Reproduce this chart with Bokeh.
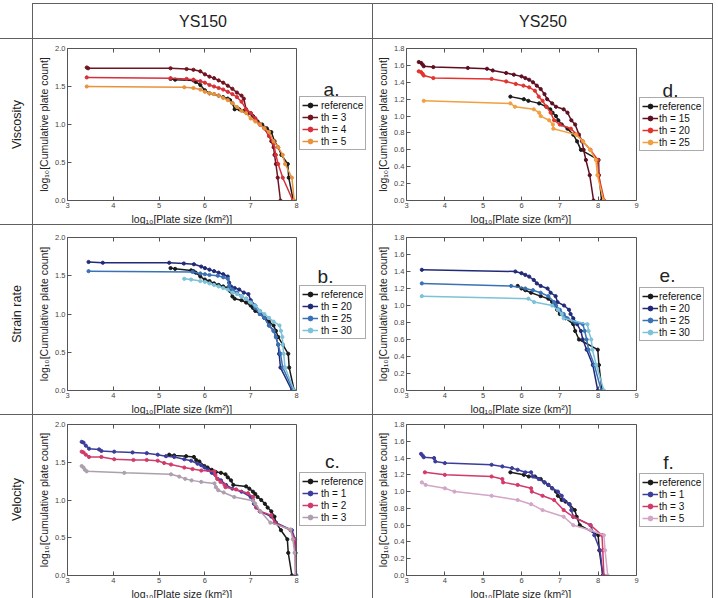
import math
from bokeh.plotting import figure
from bokeh.models import (ColumnDataSource, Legend, LegendItem, Label, Range1d, Span, Title,
                          FixedTicker, PrintfTickFormatter, LinearAxis, Div, Spacer)
from bokeh.layouts import row, column
from bokeh.embed import file_html
from bokeh.resources import INLINE

FONT = "Liberation Sans"
AXC = "#555555"
LC = "#606060"

# ---------------- data ----------------
col_headers = ["YS150", "YS250"]
row_headers = ["Viscosity", "Strain rate", "Velocity"]
x_label = "log₁₀[Plate size (km²)]"
y_label = "log₁₀[Cumulative plate count]"

# panel a: YS150 viscosity
a_ref_x = [5.25, 5.35, 5.75, 5.80, 5.90, 6.00, 6.10, 6.20, 6.30, 6.40, 6.50, 6.55, 6.60, 6.65, 6.75, 6.85, 6.95, 7.05, 7.15, 7.25, 7.35, 7.45, 7.52, 7.60, 7.67, 7.81, 7.83, 7.93]
a_ref_y = [1.60, 1.59, 1.58, 1.56, 1.52, 1.45, 1.41, 1.40, 1.38, 1.36, 1.34, 1.32, 1.28, 1.20, 1.20, 1.18, 1.15, 1.11, 1.04, 1.00, 0.95, 0.90, 0.78, 0.70, 0.60, 0.48, 0.30, 0.00]
a_th3_x = [3.42, 3.45, 5.25, 5.60, 5.75, 5.90, 6.00, 6.10, 6.20, 6.30, 6.40, 6.50, 6.60, 6.70, 6.80, 6.85, 6.90, 7.00, 7.10, 7.20, 7.30, 7.40, 7.45, 7.50, 7.52, 7.55, 7.59, 7.65]
a_th3_y = [1.75, 1.74, 1.74, 1.73, 1.72, 1.70, 1.66, 1.63, 1.61, 1.58, 1.55, 1.51, 1.47, 1.42, 1.38, 1.34, 1.20, 1.15, 1.08, 1.00, 0.95, 0.85, 0.78, 0.70, 0.60, 0.48, 0.30, 0.00]
a_th4_x = [3.42, 5.25, 5.60, 5.75, 5.90, 6.00, 6.10, 6.20, 6.30, 6.40, 6.50, 6.60, 6.70, 6.80, 6.90, 7.00, 7.10, 7.20, 7.30, 7.40, 7.50, 7.55, 7.60, 7.70, 7.92]
a_th4_y = [1.62, 1.61, 1.60, 1.59, 1.57, 1.55, 1.52, 1.50, 1.48, 1.46, 1.43, 1.40, 1.36, 1.30, 1.20, 1.15, 1.08, 1.00, 0.95, 0.85, 0.75, 0.60, 0.48, 0.30, 0.00]
a_th5_x = [3.42, 5.55, 5.75, 5.90, 6.00, 6.10, 6.20, 6.30, 6.40, 6.50, 6.60, 6.70, 6.80, 6.90, 7.00, 7.10, 7.20, 7.30, 7.40, 7.50, 7.60, 7.70, 7.75, 7.90, 7.95]
a_th5_y = [1.50, 1.49, 1.48, 1.46, 1.43, 1.41, 1.40, 1.38, 1.35, 1.32, 1.28, 1.23, 1.18, 1.15, 1.08, 1.04, 1.00, 0.95, 0.90, 0.78, 0.70, 0.60, 0.48, 0.30, 0.00]

# panel d: YS250 viscosity
d_ref_x = [5.71, 6.06, 6.18, 6.46, 6.65, 6.75, 6.81, 6.90, 6.96, 7.05, 7.20, 7.35, 7.45, 7.55, 8.01, 8.02, 8.09]
d_ref_y = [1.23, 1.20, 1.18, 1.15, 1.11, 1.08, 1.04, 1.00, 0.95, 0.90, 0.85, 0.78, 0.70, 0.60, 0.48, 0.30, 0.00]
d_th15_x = [3.32, 3.38, 3.42, 3.45, 3.70, 4.60, 5.10, 5.25, 5.60, 5.80, 6.00, 6.10, 6.20, 6.30, 6.40, 6.50, 6.60, 6.67, 6.80, 6.90, 7.10, 7.20, 7.30, 7.40, 7.50, 7.58, 7.62, 7.68, 7.78, 7.88]
d_th15_y = [1.64, 1.63, 1.61, 1.59, 1.58, 1.57, 1.56, 1.54, 1.51, 1.49, 1.47, 1.45, 1.43, 1.40, 1.36, 1.32, 1.26, 1.20, 1.15, 1.11, 1.08, 1.04, 0.95, 0.90, 0.78, 0.70, 0.60, 0.48, 0.30, 0.00]
d_th20_x = [3.32, 3.38, 3.42, 3.45, 3.70, 5.22, 5.60, 5.85, 6.05, 6.20, 6.35, 6.45, 6.55, 6.65, 6.76, 6.85, 7.00, 7.29, 7.45, 7.60, 7.80, 7.99, 8.01, 8.16]
d_th20_y = [1.53, 1.52, 1.50, 1.48, 1.45, 1.44, 1.41, 1.38, 1.36, 1.34, 1.30, 1.23, 1.18, 1.11, 1.04, 0.95, 0.90, 0.85, 0.78, 0.70, 0.60, 0.48, 0.30, 0.00]
d_th25_x = [3.45, 5.71, 5.83, 6.32, 6.46, 6.50, 6.72, 6.82, 6.83, 7.42, 7.61, 7.79, 7.94, 7.98, 8.14]
d_th25_y = [1.18, 1.15, 1.11, 1.08, 1.04, 1.00, 0.95, 0.90, 0.85, 0.78, 0.70, 0.60, 0.48, 0.30, 0.00]

# panel b: YS150 strain rate
b_ref_x = [5.25, 5.35, 5.70, 5.75, 5.80, 5.90, 6.00, 6.10, 6.20, 6.30, 6.40, 6.50, 6.55, 6.60, 6.65, 6.80, 6.90, 7.00, 7.05, 7.10, 7.20, 7.30, 7.40, 7.50, 7.55, 7.60, 7.70, 7.82, 7.84, 7.95]
b_ref_y = [1.60, 1.59, 1.57, 1.56, 1.54, 1.49, 1.45, 1.43, 1.40, 1.38, 1.36, 1.34, 1.30, 1.23, 1.20, 1.18, 1.15, 1.11, 1.08, 1.04, 1.00, 0.95, 0.90, 0.85, 0.78, 0.70, 0.60, 0.48, 0.30, 0.00]
b_th20_x = [3.46, 3.77, 5.22, 5.54, 5.76, 5.92, 6.00, 6.10, 6.20, 6.30, 6.40, 6.50, 6.53, 6.57, 6.65, 6.75, 6.85, 6.95, 7.00, 7.10, 7.20, 7.30, 7.40, 7.50, 7.55, 7.60, 7.62, 7.65, 7.90]
b_th20_y = [1.68, 1.67, 1.67, 1.66, 1.65, 1.62, 1.60, 1.58, 1.56, 1.54, 1.52, 1.49, 1.41, 1.36, 1.34, 1.32, 1.28, 1.26, 1.18, 1.11, 1.04, 0.95, 0.85, 0.78, 0.70, 0.60, 0.48, 0.30, 0.00]
b_th25_x = [3.46, 5.73, 5.90, 6.00, 6.10, 6.28, 6.40, 6.50, 6.53, 6.60, 6.70, 6.80, 6.90, 7.00, 7.10, 7.20, 7.30, 7.40, 7.50, 7.55, 7.60, 7.65, 7.70, 7.93]
b_th25_y = [1.56, 1.55, 1.53, 1.52, 1.51, 1.50, 1.48, 1.46, 1.37, 1.32, 1.28, 1.23, 1.20, 1.15, 1.08, 1.00, 0.95, 0.85, 0.78, 0.70, 0.60, 0.48, 0.30, 0.00]
b_th30_x = [5.55, 5.70, 5.90, 6.00, 6.10, 6.20, 6.30, 6.40, 6.50, 6.60, 6.70, 6.80, 6.90, 7.00, 7.10, 7.20, 7.30, 7.40, 7.50, 7.63, 7.66, 7.69, 7.70, 7.72, 7.75, 7.95]
b_th30_y = [1.46, 1.45, 1.43, 1.42, 1.40, 1.38, 1.36, 1.34, 1.32, 1.28, 1.26, 1.23, 1.20, 1.15, 1.11, 1.04, 1.00, 0.95, 0.90, 0.85, 0.78, 0.70, 0.60, 0.48, 0.30, 0.00]

# panel e: YS250 strain rate
e_ref_x = [5.90, 6.00, 6.10, 6.25, 6.50, 6.70, 6.80, 6.88, 6.93, 7.00, 7.15, 7.35, 7.40, 7.50, 7.99, 8.02, 8.10]
e_ref_y = [1.23, 1.20, 1.18, 1.15, 1.11, 1.08, 1.04, 1.00, 0.95, 0.90, 0.85, 0.78, 0.70, 0.60, 0.48, 0.30, 0.00]
e_th20_x = [3.40, 5.84, 6.00, 6.10, 6.20, 6.32, 6.40, 6.50, 6.68, 6.76, 6.89, 6.94, 7.11, 7.24, 7.28, 7.35, 7.45, 7.55, 7.60, 7.70, 7.86, 7.99]
e_th20_y = [1.42, 1.40, 1.38, 1.36, 1.34, 1.30, 1.26, 1.23, 1.20, 1.15, 1.11, 1.04, 1.00, 0.95, 0.90, 0.85, 0.78, 0.70, 0.60, 0.48, 0.30, 0.00]
e_th25_x = [3.40, 5.73, 6.10, 6.30, 6.50, 6.70, 6.85, 6.90, 7.00, 7.10, 7.20, 7.40, 7.60, 7.65, 7.70, 7.75, 7.90, 8.08]
e_th25_y = [1.26, 1.23, 1.20, 1.18, 1.15, 1.11, 1.04, 1.00, 0.95, 0.90, 0.85, 0.80, 0.78, 0.70, 0.60, 0.48, 0.30, 0.00]
e_th30_x = [3.40, 6.18, 6.33, 6.80, 6.95, 7.05, 7.10, 7.72, 7.75, 7.82, 7.85, 7.95, 8.15]
e_th30_y = [1.11, 1.08, 1.04, 1.00, 0.95, 0.90, 0.85, 0.78, 0.70, 0.60, 0.48, 0.30, 0.00]

# panel c: YS150 velocity
c_ref_x = [5.22, 5.33, 5.59, 5.76, 5.81, 5.88, 5.99, 6.06, 6.15, 6.24, 6.35, 6.45, 6.50, 6.57, 6.62, 6.90, 6.97, 7.05, 7.10, 7.15, 7.23, 7.31, 7.37, 7.45, 7.52, 7.55, 7.66, 7.80, 7.82, 7.90]
c_ref_y = [1.60, 1.59, 1.58, 1.57, 1.53, 1.51, 1.45, 1.43, 1.40, 1.37, 1.36, 1.34, 1.30, 1.26, 1.20, 1.18, 1.15, 1.11, 1.08, 1.04, 1.00, 0.95, 0.90, 0.85, 0.78, 0.70, 0.60, 0.48, 0.30, 0.00]
c_th1_x = [3.31, 3.35, 3.40, 3.47, 3.69, 3.74, 4.02, 4.42, 4.73, 4.97, 5.15, 5.33, 5.55, 5.70, 5.84, 5.92, 5.99, 6.06, 6.15, 6.28, 6.35, 6.46, 6.60, 6.80, 7.00, 7.05, 7.07, 7.12, 7.20, 7.45, 7.55, 7.90, 7.97, 7.98, 8.00]
c_th1_y = [1.77, 1.76, 1.72, 1.68, 1.67, 1.65, 1.64, 1.63, 1.62, 1.60, 1.58, 1.57, 1.54, 1.52, 1.48, 1.46, 1.43, 1.40, 1.36, 1.28, 1.26, 1.20, 1.15, 1.11, 1.04, 1.00, 0.95, 0.90, 0.85, 0.78, 0.70, 0.60, 0.48, 0.30, 0.00]
c_th2_x = [3.31, 3.35, 3.40, 3.47, 3.74, 4.02, 4.44, 4.73, 4.97, 5.11, 5.26, 5.55, 5.73, 5.92, 6.21, 6.23, 6.27, 6.34, 6.43, 6.45, 6.68, 6.94, 7.05, 7.12, 7.20, 7.45, 7.52, 7.87, 7.96, 7.97, 7.98]
c_th2_y = [1.64, 1.63, 1.60, 1.57, 1.57, 1.54, 1.53, 1.53, 1.52, 1.49, 1.47, 1.43, 1.41, 1.39, 1.38, 1.33, 1.28, 1.24, 1.20, 1.17, 1.14, 1.09, 1.04, 0.91, 0.85, 0.80, 0.70, 0.60, 0.48, 0.30, 0.00]
c_th3_x = [3.31, 3.35, 3.38, 3.42, 4.24, 5.26, 5.44, 5.57, 5.71, 5.92, 6.21, 6.24, 6.29, 6.41, 6.64, 7.05, 7.10, 7.21, 7.43, 7.87, 7.92, 7.96, 7.98]
c_th3_y = [1.45, 1.43, 1.40, 1.38, 1.36, 1.34, 1.31, 1.28, 1.26, 1.24, 1.22, 1.17, 1.13, 1.10, 1.04, 0.99, 0.95, 0.85, 0.70, 0.61, 0.48, 0.30, 0.00]

# panel f: YS250 velocity
f_ref_x = [5.71, 6.06, 6.19, 6.35, 6.50, 6.60, 6.70, 6.80, 6.90, 6.95, 7.05, 7.15, 7.25, 7.39, 7.44, 7.52, 8.00, 8.03, 8.12]
f_ref_y = [1.23, 1.20, 1.18, 1.18, 1.15, 1.11, 1.08, 1.04, 1.00, 0.95, 0.90, 0.88, 0.85, 0.78, 0.70, 0.60, 0.48, 0.30, 0.00]
f_th1_x = [3.38, 3.42, 3.45, 3.72, 3.75, 4.00, 5.22, 5.50, 5.75, 5.90, 6.10, 6.25, 6.30, 6.45, 6.60, 6.70, 6.80, 6.95, 7.05, 7.10, 7.25, 7.30, 7.35, 7.80, 7.90, 8.05, 8.12]
f_th1_y = [1.45, 1.43, 1.41, 1.40, 1.36, 1.34, 1.32, 1.30, 1.28, 1.26, 1.23, 1.23, 1.18, 1.15, 1.11, 1.08, 1.04, 1.00, 0.95, 0.90, 0.85, 0.78, 0.70, 0.60, 0.48, 0.30, 0.00]
f_th3_x = [3.48, 4.00, 5.22, 5.50, 5.52, 5.90, 6.25, 6.27, 6.55, 6.85, 7.10, 7.35, 7.80, 8.10, 8.12, 8.15]
f_th3_y = [1.23, 1.20, 1.18, 1.15, 1.11, 1.08, 1.04, 1.00, 0.95, 0.90, 0.78, 0.70, 0.60, 0.48, 0.30, 0.00]
f_th5_x = [3.40, 3.50, 4.00, 4.25, 5.22, 5.90, 6.25, 6.55, 7.10, 7.35, 7.80, 8.15, 8.18, 8.25]
f_th5_y = [1.11, 1.08, 1.04, 1.00, 0.95, 0.90, 0.85, 0.78, 0.70, 0.60, 0.54, 0.48, 0.30, 0.00]

x_ticks_150 = [3, 4, 5, 6, 7, 8]
y_ticks_150 = [0.0, 0.5, 1.0, 1.5, 2.0]
x_ticks_250 = [3, 4, 5, 6, 7, 8, 9]
y_ticks_250 = [0.0, 0.2, 0.4, 0.6, 0.8, 1.0, 1.2, 1.4, 1.6, 1.8]

REF = "#1a1a1a"


def style_axis(ax, ticks, fmt, show_labels=True):
    ax.ticker = FixedTicker(ticks=ticks)
    ax.formatter = PrintfTickFormatter(format=fmt)
    ax.major_tick_in = 4
    ax.major_tick_out = 0
    ax.minor_tick_line_color = None
    ax.axis_line_color = AXC
    ax.major_tick_line_color = AXC
    ax.major_label_text_font = FONT
    ax.major_label_text_color = "#444444"
    if show_labels:
        ax.major_label_text_font_size = "7.5px"
        ax.major_label_standoff = 2
    else:
        ax.major_label_text_font_size = "0px"
        ax.major_label_text_alpha = 0
        ax.major_label_standoff = 0


def panel(series, xmax, ymax, xticks, yticks, left, fw, extra, top, fh, bottom,
          leg_y, letter, let_dx, let_dy, standoff):
    # the frame holds the axes box plus the area to its right (legend, letter)
    full_w = fw + extra
    x_end = 3 + (xmax - 3) * full_w / fw
    p = figure(frame_width=full_w, frame_height=fh,
               min_border_left=left, min_border_right=0,
               min_border_top=top, min_border_bottom=bottom,
               x_range=Range1d(3, x_end), y_range=Range1d(0, ymax),
               toolbar_location=None, tools="", output_backend="svg")
    p.grid.visible = False
    p.outline_line_color = None
    p.background_fill_color = "white"
    p.border_fill_color = "white"
    style_axis(p.xaxis[0], xticks, "%d")
    p.xaxis[0].bounds = (3, xmax)
    style_axis(p.yaxis[0], yticks, "%.1f")
    p.yaxis[0].axis_label = y_label
    p.yaxis[0].axis_label_text_font = FONT
    p.yaxis[0].axis_label_text_font_style = "normal"
    p.yaxis[0].axis_label_text_font_size = "10.5px"
    p.yaxis[0].axis_label_text_color = "#222222"
    p.yaxis[0].axis_label_standoff = 2
    ta = LinearAxis()
    style_axis(ta, xticks, "%d", show_labels=False)
    ta.bounds = (3, xmax)
    p.add_layout(ta, "above")
    p.add_layout(Span(location=xmax, dimension="height", line_color=AXC, line_width=1))

    p.add_layout(Title(text=x_label, align="left", offset=64, standoff=0,
                       text_font=FONT, text_font_size="10.5px", text_font_style="normal",
                       text_color="#222222"), "below")

    items = []
    for name, xs, ys, color in series:
        src = ColumnDataSource(dict(x=xs, y=ys))
        ln = p.line("x", "y", source=src, line_color=color, line_width=1.5)
        sc = p.scatter("x", "y", source=src, size=3.2, marker="circle",
                       fill_color=color, line_color=color)
        items.append(LegendItem(label=name, renderers=[ln, sc]))
    leg = Legend(items=items, location=(fw + 3, leg_y))
    leg.label_text_font = FONT
    leg.label_text_font_size = "10px"
    leg.label_text_color = "#111111"
    leg.label_height = 12
    leg.glyph_height = 12
    leg.glyph_width = 16
    leg.label_standoff = standoff
    leg.spacing = 0
    leg.padding = 2
    leg.margin = 0
    leg.border_line_color = AXC
    leg.border_line_width = 1
    leg.background_fill_alpha = 1.0
    p.add_layout(leg)

    p.add_layout(Label(x=fw + let_dx, y=fh - let_dy, x_units="screen", y_units="screen",
                       text=letter, text_align="center", text_baseline="alphabetic",
                       text_font=FONT, text_font_size="19px", text_color="#222222"))
    return p


def text_cell(w, h, txt, size, angle=0.0):
    f = figure(width=w, height=h, x_range=Range1d(0, 1), y_range=Range1d(0, 1),
               min_border=0, toolbar_location=None, tools="", output_backend="svg",
               x_axis_location=None, y_axis_location=None)
    f.grid.visible = False
    f.outline_line_color = None
    f.add_layout(Label(x=0.5, y=0.5, text=txt, angle=angle, text_align="center",
                       text_baseline="middle", text_font=FONT, text_font_size=size,
                       text_color="#222222"))
    return f


def hline(w):
    return Div(text="", width=w, height=1, margin=0, styles={"background-color": LC})


def vline(h):
    return Div(text="", width=1, height=h, margin=0, styles={"background-color": LC})


def gap(w, h):
    return Spacer(width=w, height=h, margin=0)


pa = panel([("reference", a_ref_x, a_ref_y, REF),
            ("th = 3", a_th3_x, a_th3_y, "#701420"),
            ("th = 4", a_th4_x, a_th4_y, "#d8303a"),
            ("th = 5", a_th5_x, a_th5_y, "#e8923c")],
           8, 2.0, x_ticks_150, y_ticks_150, 34, 229, 76, 9, 152, 24,
           50, "a.", 35, 41, 3)
pd_ = panel([("reference", d_ref_x, d_ref_y, REF),
             ("th = 15", d_th15_x, d_th15_y, "#5e0f22"),
             ("th = 20", d_th20_x, d_th20_y, "#e2342f"),
             ("th = 25", d_th25_x, d_th25_y, "#f0a040")],
            9, 1.8, x_ticks_250, y_ticks_250, 33, 230, 76, 9, 152, 24,
            49, "d.", 34, 42, 1)
pb = panel([("reference", b_ref_x, b_ref_y, REF),
            ("th = 20", b_th20_x, b_th20_y, "#222a78"),
            ("th = 25", b_th25_x, b_th25_y, "#3a72b6"),
            ("th = 30", b_th30_x, b_th30_y, "#7cc2d8")],
           8, 2.0, x_ticks_150, y_ticks_150, 34, 229, 76, 12, 153, 24,
           51, "b.", 29, 39, 3)
pe = panel([("reference", e_ref_x, e_ref_y, REF),
            ("th = 20", e_th20_x, e_th20_y, "#222a78"),
            ("th = 25", e_th25_x, e_th25_y, "#3a72b6"),
            ("th = 30", e_th30_x, e_th30_y, "#7cc2d8")],
           9, 1.8, x_ticks_250, y_ticks_250, 33, 230, 76, 12, 153, 24,
           49, "e.", 31, 38, 1)
pc = panel([("reference", c_ref_x, c_ref_y, REF),
            ("th = 1", c_th1_x, c_th1_y, "#3c3c9c"),
            ("th = 2", c_th2_x, c_th2_y, "#d23a6c"),
            ("th = 3", c_th3_x, c_th3_y, "#ad9fae")],
           8, 2.0, x_ticks_150, y_ticks_150, 34, 229, 76, 9, 151, 23,
           49, "c.", 36, 37, 3)
pf = panel([("reference", f_ref_x, f_ref_y, REF),
            ("th = 1", f_th1_x, f_th1_y, "#3c3c9c"),
            ("th = 3", f_th3_x, f_th3_y, "#d23a6c"),
            ("th = 5", f_th5_x, f_th5_y, "#d2a6c6")],
           9, 1.8, x_ticks_250, y_ticks_250, 33, 230, 76, 9, 151, 23,
           48, "f.", 32, 38, 1)

layout = column(
    gap(718, 3),
    row(gap(32, 1), hline(681)),
    row(gap(32, 34), vline(34),
        text_cell(339, 34, col_headers[0], "16px"), vline(34),
        text_cell(339, 34, col_headers[1], "16px"), vline(34)),
    hline(713),
    row(text_cell(32, 185, row_headers[0], "12.5px", math.pi / 2), vline(185),
        pa, vline(185), pd_, vline(185)),
    hline(713),
    row(text_cell(32, 189, row_headers[1], "12.5px", math.pi / 2), vline(189),
        pb, vline(189), pe, vline(189)),
    hline(713),
    row(text_cell(32, 183, row_headers[2], "12.5px", math.pi / 2), vline(183),
        pc, vline(183), pf, vline(183)),
)

open("out.html", "w").write(file_html(layout, INLINE))
